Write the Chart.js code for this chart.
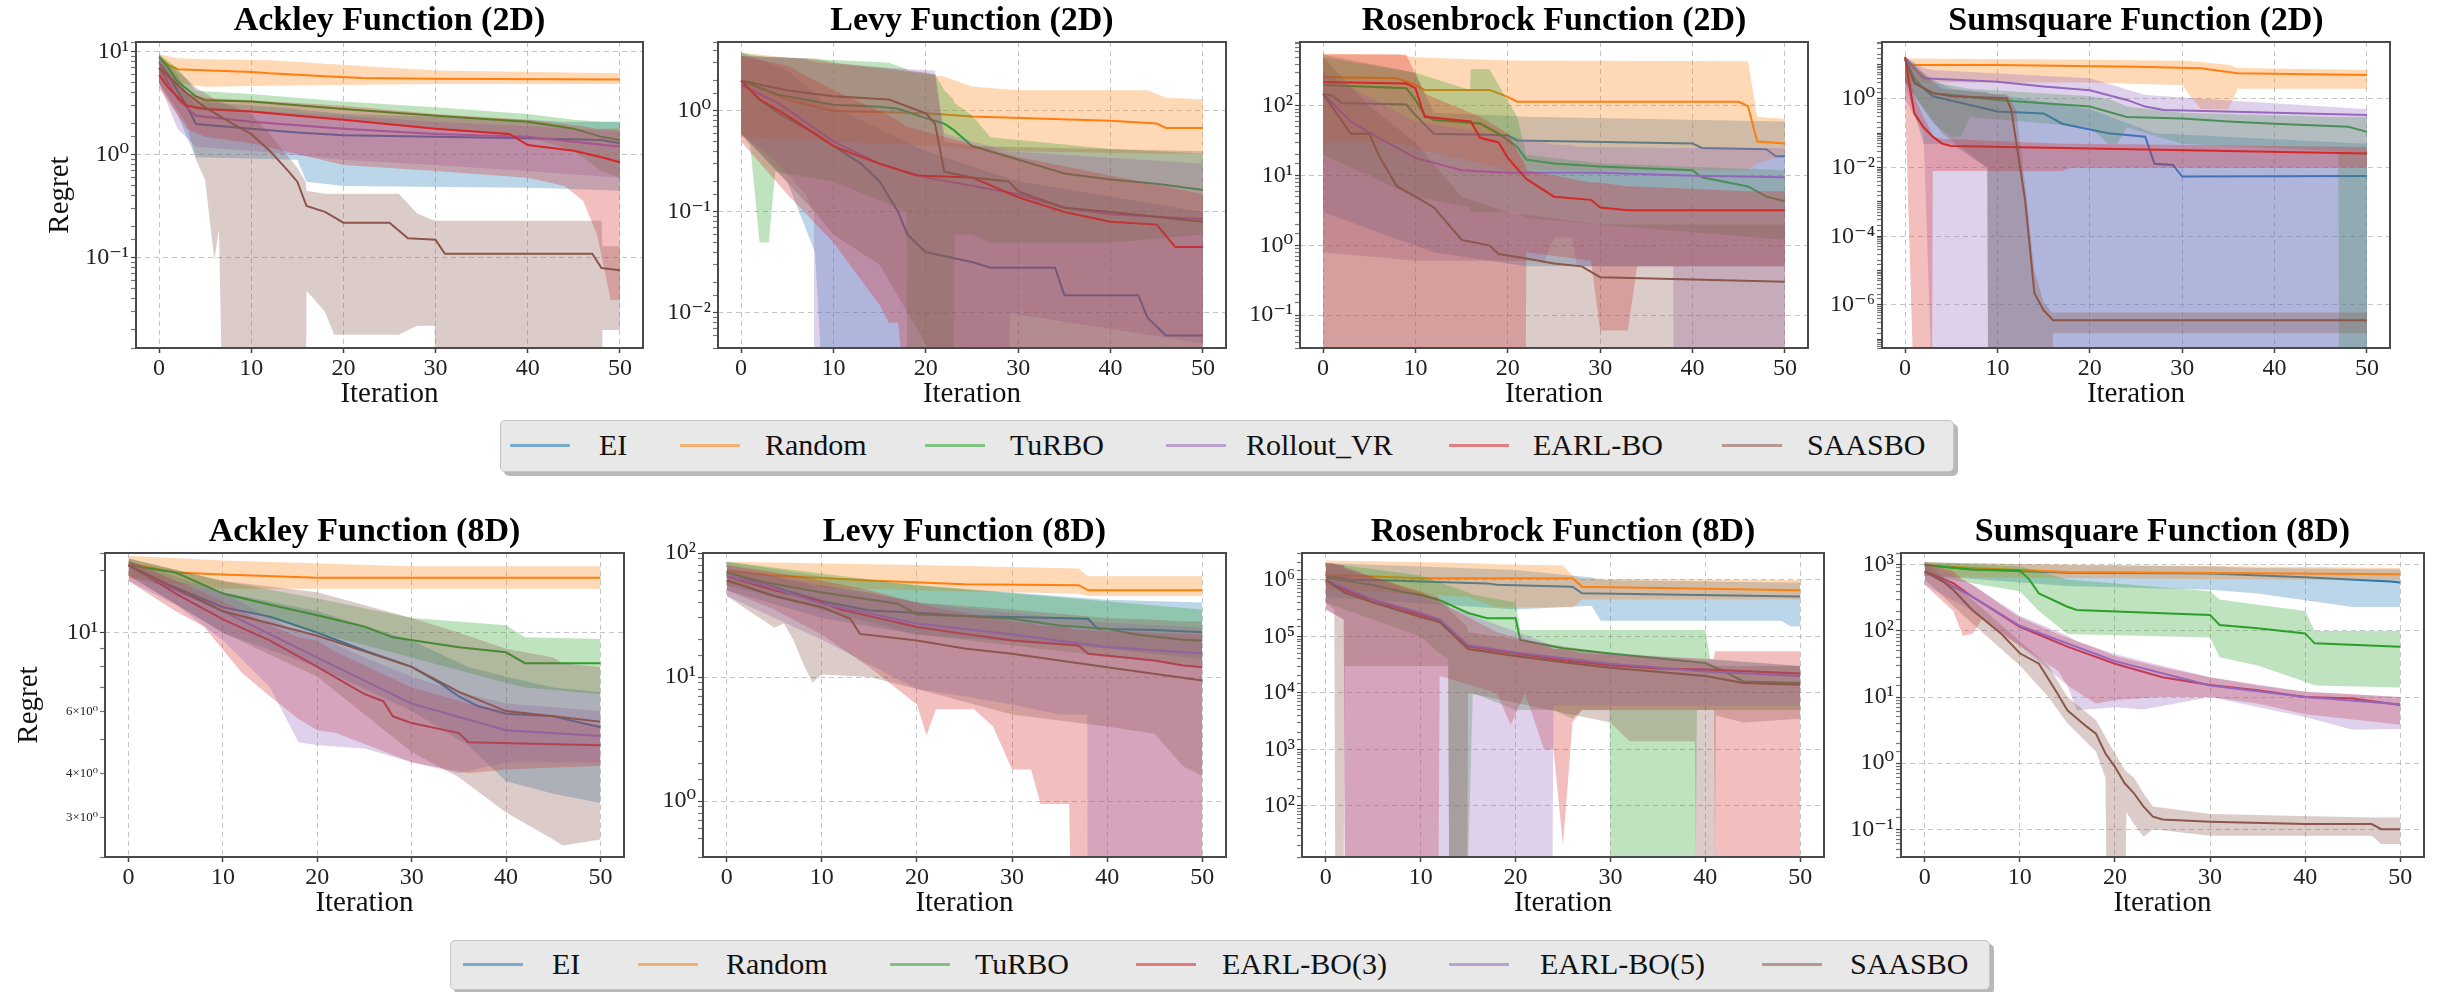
<!DOCTYPE html>
<html><head><meta charset="utf-8">
<script src="https://cdn.jsdelivr.net/npm/chart.js@4.4.1/dist/chart.umd.min.js"></script>
<style>
html,body{margin:0;padding:0;background:#fff;width:2440px;height:992px;overflow:hidden;position:relative;font-family:"Liberation Serif","Times New Roman",Tinos,"DejaVu Serif","Noto Serif",serif;}
canvas{position:absolute;}
.legend{position:absolute;background:#e8e8e8;border:1px solid #c4c4c4;border-radius:5px;box-shadow:4px 4px 0 rgba(0,0,0,0.28);}
.lh{position:absolute;height:3px;}
.lt{position:absolute;font-size:30px;line-height:30px;color:#111;white-space:nowrap;}
</style></head><body>
<script>
// ---------------- DATA ----------------
const xTicks = [0,10,20,30,40,50];
const topNames = ['EI','Random','TuRBO','Rollout_VR','EARL-BO','SAASBO'];
const bottomNames = ['EI','Random','TuRBO','EARL-BO(3)','EARL-BO(5)','SAASBO'];
const titles = ['Ackley Function (2D)','Levy Function (2D)','Rosenbrock Function (2D)','Sumsquare Function (2D)',
                'Ackley Function (8D)','Levy Function (8D)','Rosenbrock Function (8D)','Sumsquare Function (8D)'];
const A8_minorLabels = [3,4,6];

// Ackley 2D  (mean: [iter, value]; band: [iter, low, high])
const A2_EI = [[0,8],[1,6],[2,4.2],[3,3],[4,2.0],[10,1.8],[15,1.65],[20,1.55],[30,1.5],[40,1.45],[48,1.4],[50,1.3]];
const A2_EI_band = [[0,5,9.5],[2,2.5,6],[3,1.5,4],[4,0.95,3.3],[15,0.9,2.8],[16,0.55,2.7],[20,0.5,2.5],[40,0.48,2.2],[44,0.47,2.1],[50,0.45,2.1]];
const A2_Random = [[0,8.9],[1,7.5],[2,6.8],[10,6.4],[12,6.2],[18,5.8],[22,5.6],[30,5.5],[50,5.4]];
const A2_Random_band = [[0,6,9.5],[2,5,8.7],[5,4.6,8.5],[12,4.7,8.3],[22,4.8,7.3],[30,4.9,6.6],[50,4.9,6.2]];
const A2_TuRBO = [[0,9],[1,7],[2,5.2],[4,3.7],[5,3.4],[10,3.3],[20,2.8],[30,2.4],[40,2.1],[45,1.8],[48,1.5],[50,1.4]];
const A2_TuRBO_band = [[0,7,9.5],[2,3.5,7],[4,2.7,4.2],[10,2.6,3.9],[20,2.2,3.3],[30,1.8,2.9],[40,1.5,2.5],[45,1.1,2.2],[48,0.7,2.1],[50,0.6,2.1]];
const A2_Rollout = [[0,7],[2,3.5],[4,2.4],[10,2.1],[20,1.8],[30,1.6],[40,1.5],[50,1.2]];
const A2_Rollout_band = [[0,5,9],[2,1.8,5],[4,1.2,3],[10,1.1,2.7],[20,0.9,2.4],[30,0.8,2.1],[40,0.7,1.9],[50,0.6,1.7]];
const A2_EARL = [[0,6],[1,4.5],[3,3],[5,2.8],[10,2.65],[15,2.4],[20,2.2],[30,1.8],[38,1.6],[40,1.25],[45,1.1],[48,0.95],[50,0.85]];
const A2_EARL_band = [[0,4.5,8],[3,1.8,4],[5,1.5,3.6],[10,1.3,3.4],[20,0.8,3],[30,0.7,2.5],[40,0.6,2.2],[44,0.5,2.0],[46,0.36,1.9],[47.5,0.17,1.8],[49,0.039,1.8],[50,0.039,1.8]];
const A2_SAASBO = [[0,7],[3,4],[5,2.9],[8,2.0],[10,1.6],[12,1.1],[14,0.7],[15,0.55],[16,0.32],[18,0.28],[20,0.22],[25,0.22],[27,0.155],[30,0.15],[31,0.11],[47,0.11],[48,0.08],[50,0.076]];
const A2_SAASBO_band = [[0,5,9],[3,2,5.5],[4,0.9,4.5],[5,0.57,4],[6,0.095,3.5],[6.5,0.19,3.3],[7,0.001,3.2],[10,0.001,2.5],[12,0.001,1.6],[15,0.001,0.75],[15.9,0.001,0.55],[16,0.048,0.45],[18,0.03,0.42],[19,0.018,0.42],[26,0.018,0.42],[28,0.022,0.27],[29.9,0.022,0.23],[30,0.001,0.23],[48,0.001,0.23],[48.1,0.02,0.13],[50,0.02,0.13]];

// Levy 2D
const L2_EI = [[0,2],[2,1.3],[4,0.95],[8,0.6],[10,0.45],[13,0.3],[15,0.2],[17,0.1],[18,0.06],[20,0.04],[25,0.032],[27,0.028],[34,0.028],[35,0.015],[43,0.015],[44,0.009],[46,0.006],[50,0.006]];
const L2_EI_band = [[0,0.6,3.8],[5,0.2,2.5],[8,0.04,1.5],[9,0.001,1.2],[20,0.001,0.4],[30,0.001,0.2],[50,0.001,0.1]];
const L2_Random = [[0,2],[5,1.3],[10,1.0],[20,0.95],[25,0.88],[40,0.8],[45,0.75],[46,0.68],[50,0.68]];
const L2_Random_band = [[0,0.55,3.8],[10,0.5,3.0],[22,0.45,2.2],[25,0.42,1.75],[30,0.4,1.6],[44,0.38,1.6],[46,0.38,1.35],[50,0.38,1.3]];
const L2_TuRBO = [[0,2],[4,1.45],[10,1.15],[15,1.1],[17,1.05],[20,0.85],[22,0.75],[23,0.65],[25,0.45],[30,0.33],[35,0.24],[40,0.21],[45,0.19],[50,0.165]];
const L2_TuRBO_band = [[0,0.6,3.8],[1,0.45,3.6],[2,0.05,3.5],[3,0.05,3.4],[3.7,0.25,3.4],[10,0.2,3.2],[16,0.12,3.0],[17.9,0.1,2.6],[18,0.001,2.5],[21,0.001,2.3],[22,0.001,1.6],[23,0.001,1.3],[23.1,0.06,1.2],[25,0.06,0.9],[27,0.05,0.55],[40,0.05,0.42],[50,0.06,0.38]];
const L2_Rollout = [[0,1.8],[4,1.2],[10,0.5],[15,0.3],[20,0.22],[30,0.15],[35,0.11],[40,0.095],[50,0.085]];
const L2_Rollout_band = [[0,0.6,3.5],[4,0.3,3.4],[7,0.15,3.3],[7.9,0.1,3.0],[8,0.001,3.0],[21,0.001,2.5],[22,0.001,0.6],[29,0.001,0.4],[29.1,0.01,0.4],[50,0.005,0.3]];
const L2_EARL = [[0,2],[2,1.3],[5,0.9],[10,0.45],[12,0.38],[15,0.3],[19,0.23],[25,0.22],[30,0.14],[35,0.1],[40,0.08],[45,0.075],[47,0.045],[50,0.045]];
const L2_EARL_band = [[0,0.5,3.5],[5,0.15,2.8],[10,0.05,1.6],[15,0.012,1.0],[16,0.008,0.9],[17,0.008,0.8],[18,0.001,0.7],[30,0.001,0.35],[50,0.001,0.15]];
const L2_SAASBO = [[0,2],[5,1.6],[10,1.4],[16,1.3],[17,1.2],[20,0.95],[21,0.75],[22,0.25],[25,0.22],[29,0.2],[30,0.16],[35,0.11],[40,0.1],[50,0.08]];
const L2_SAASBO_band = [[0,0.6,3.5],[8,0.1,3.3],[10,0.06,3.0],[15,0.03,2.7],[20,0.005,2.4],[21,0.001,2.3],[22,0.001,0.5],[25,0.001,0.45],[50,0.001,0.4]];

// Rosenbrock 2D
const R2_EI = [[0,150],[1,140],[2,110],[9,105],[10,74],[12,40],[20,38],[21,32],[40,29],[41,25],[48,24],[49,19],[50,19]];
const R2_EI_band = [[0,3,550],[10,1,300],[12,0.8,80],[22,0.5,70],[50,0.5,60]];
const R2_Random = [[0,260],[8,250],[10,200],[11,170],[18,170],[20,135],[21,115],[45,115],[46,100],[47,31],[50,29]];
const R2_Random_band = [[0,30,560],[8,30,550],[10,25,500],[20,12,450],[46,12,440],[47,15,70],[50,20,65]];
const R2_TuRBO = [[0,200],[9,180],[10,122],[11,74],[12,63],[17,56],[19,40],[21,26],[22,17],[25,15],[30,13.5],[40,12],[41,9.5],[46,7],[48,5],[50,4.3]];
const R2_TuRBO_band = [[0,20,500],[10,5,300],[15.9,3.5,170],[16,3,340],[18,3,340],[19,3,200],[21,3,70],[22,2.5,20],[30,2,15],[50,1.2,12]];
const R2_Rollout = [[0,150],[3,60],[6,35],[10,18],[15,12],[20,11],[30,11],[40,10],[50,9.5]];
const R2_Rollout_band = [[0,0.8,300],[10,0.6,60],[24,0.6,30],[25,1.3,28],[27,1.3,27],[27.5,0.5,26],[37.9,0.5,25],[38,0.001,25],[50,0.001,25]];
const R2_EARL = [[0,220],[9,210],[10,180],[11,70],[16,60],[17,35],[19,30],[20,18],[22,9],[25,5],[29,4.5],[30,3.5],[33,3.2],[50,3.2]];
const R2_EARL_band = [[0,0.001,550],[9,0.001,550],[11,0.001,150],[17,0.001,70],[20,0.001,40],[21.9,0.001,14],[22,0.8,12],[29,0.6,8],[30,0.06,8],[33,0.06,7],[34,0.5,7],[46,0.5,6],[50,0.5,6]];
const R2_SAASBO = [[0,150],[3,40],[5,40],[6,20],[8,7],[10,5],[12,3.5],[15,1.2],[18,1.0],[19,0.75],[22,0.65],[25,0.55],[28,0.5],[30,0.35],[50,0.3]];
const R2_SAASBO_band = [[0,0.001,500],[5,0.001,100],[10,0.001,30],[15,0.001,5],[20,0.001,3],[30,0.001,2],[50,0.001,2]];

// Sumsquare 2D
const S2_EI = [[0,15],[1,4],[2,2],[3,1.2],[10,0.43],[15,0.38],[17,0.19],[22,0.1],[26,0.08],[27,0.013],[29,0.012],[30,0.0055],[50,0.0057]];
const S2_EI_band = [[0,3,17],[2,0.05,5],[5,0.05,2],[8.9,0.01,1.6],[9,1e-9,1.5],[20,1e-9,0.5],[27,1e-9,0.1],[50,1e-9,0.05]];
const S2_Random = [[0,11],[1,9.8],[10,9.8],[25,8.7],[32,7.8],[36,5.6],[50,5]];
const S2_Random_band = [[0,3,15],[20,3,14],[30,2.5,13],[32,0.5,12],[35,0.5,10],[36,2,8],[50,2,7]];
const S2_TuRBO = [[0,15],[1,3],[3,1.46],[5,1.3],[10,0.93],[20,0.6],[24,0.3],[30,0.27],[35,0.22],[40,0.19],[48,0.155],[50,0.11]];
const S2_TuRBO_band = [[0,3,17],[3,0.2,3],[5,0.08,2.5],[6,0.08,2.2],[7,0.3,2],[20,0.15,1.2],[22,0.05,1.0],[23,0.05,0.8],[24,0.15,0.6],[30,0.05,0.4],[46.9,0.03,0.3],[47,1e-9,0.3],[50,1e-9,0.3]];
const S2_Rollout = [[0,15],[2,4],[10,3.2],[15,2.3],[20,1.8],[24,0.94],[26,0.6],[28,0.48],[50,0.34]];
const S2_Rollout_band = [[0,1,17],[2,0.1,8],[3,1e-9,7],[20,1e-9,4],[26,1e-9,1.3],[50,1e-9,0.5]];
const S2_EARL = [[0,17],[0.5,2.3],[1,0.38],[2,0.15],[3,0.08],[4,0.05],[5,0.043],[20,0.036],[50,0.026]];
const S2_EARL_band = [[0,1,17],[1,1e-9,1.2],[2,1e-9,0.3],[2.9,1e-9,0.1],[3,0.008,0.08],[4,0.008,0.07],[17,0.008,0.05],[18,0.01,0.05],[50,0.01,0.04]];
const S2_SAASBO = [[0,15],[1,2.9],[3,1.5],[5,1.2],[11,1.05],[11.5,0.48],[13,1.1e-3],[14,2.2e-6],[15,7e-7],[16,3.6e-7],[50,3.6e-7]];
const S2_SAASBO_band = [[0,3,17],[4,0.1,2],[8.9,0.01,1.5],[9,1e-9,1.4],[11,1e-9,1.4],[12,1e-9,0.5],[13,1e-9,3e-3],[14,1e-9,1e-5],[15,1e-9,1.2e-6],[15.9,1e-9,6e-7],[16,1.5e-7,6e-7],[50,1.5e-7,6e-7]];

// Ackley 8D
const A8_EI = [[0,15.5],[3,13.9],[5,13.4],[10,11.8],[15,11.1],[20,10],[25,8.9],[30,8],[33,7.2],[35,6.6],[37,6.2],[40,5.9],[45,5.8],[50,5.4]];
const A8_EI_band = [[0,14.5,16],[10,10,13],[20,8,11.5],[30,6,9.5],[36,4.8,8],[40,3.8,7.5],[45,3.5,7],[50,3.3,6.8]];
const A8_Random = [[0,15.7],[5,14.8],[10,14.6],[20,14.3],[50,14.3]];
const A8_Random_band = [[0,14.2,16.5],[10,13.3,16],[30,13.3,15.4],[50,13.3,15.4]];
const A8_TuRBO = [[0,15.5],[5,14.8],[10,12.9],[15,12],[20,11.2],[25,10.4],[28,9.7],[35,9.1],[40,8.8],[42,8.2],[50,8.2]];
const A8_TuRBO_band = [[0,14.5,16.2],[10,12,14],[20,10,12.5],[30,8.5,11],[40,7.2,10.5],[42,7,9.7],[50,6.7,9.6]];
const A8_EARL3 = [[0,15.5],[2,14.5],[5,12.9],[10,10.9],[15,9.5],[20,8],[25,6.7],[27,6.4],[28,5.8],[30,5.55],[35,5.2],[36,4.9],[50,4.8]];
const A8_EARL3_band = [[0,14,16],[5,11.5,14],[8,10.4,13],[12,7.7,11.5],[15,6.6,10.5],[18,5.7,9.7],[20,5.3,9.5],[22,5.2,8.8],[30,4.3,7],[36,4.0,6.3],[40,4.1,6],[50,4.2,5.5]];
const A8_EARL5 = [[0,15.5],[5,13.2],[10,11.5],[20,8.5],[30,6.3],[40,5.3],[50,5.1]];
const A8_EARL5_band = [[0,14,16],[5,12,14],[10,9.5,13],[15,7,11],[18,4.9,10],[20,4.8,9.8],[25,4.7,8.5],[30,4.3,7.5],[35,4.0,6.8],[40,4.3,6.3],[50,4.3,6]];
const A8_SAASBO = [[0,15.5],[10,11.5],[20,9.8],[30,8],[35,6.8],[40,6],[45,5.8],[50,5.6]];
const A8_SAASBO_band = [[0,14.5,16.2],[10,10,14],[20,7.5,13],[30,4.6,11],[35,3.9,10],[40,3.1,9],[45,2.6,8.5],[46,2.5,8.2],[50,2.6,8]];

// Levy 8D
const L8_EI = [[0,70],[5,53],[10,41],[15,34.4],[20,33],[25,31],[35,30],[38,29.5],[39,24.5],[45,24],[50,23]];
const L8_EI_band = [[0,50,85],[10,30,65],[20,22,55],[40,17,42],[50,14,40]];
const L8_Random = [[0,72],[5,66],[15,60],[25,56],[37,55],[38,50],[50,50]];
const L8_Random_band = [[0,55,85],[20,50,80],[37,47,75],[38,45,65],[50,45,65]];
const L8_TuRBO = [[0,70],[4,58],[10,48],[18,39],[20,32],[25,31],[30,29.5],[35,26],[40,24.5],[43,22],[48,20],[50,19.7]];
const L8_TuRBO_band = [[0,55,85],[20,22,55],[50,12,35]];
const L8_EARL3 = [[0,65],[5,50],[9,42.6],[12,35],[15,31],[20,25.3],[25,22.3],[30,19.7],[37,18],[38,15.4],[45,13.6],[48,12.4],[50,12]];
const L8_EARL3_band = [[0,50,80],[5,35,70],[10,22,60],[15,12,50],[20,6,40],[21,3.4,38],[22,5.5,36],[26,5.5,32],[28,4,30],[30,1.8,28],[32,1.8,27],[33,0.95,26],[36,0.95,25],[36.5,0.01,24],[50,0.01,22]];
const L8_EARL5 = [[0,65],[4,55],[10,39],[15,32.6],[20,27],[30,22],[40,17.5],[50,15.5]];
const L8_EARL5_band = [[0,45,80],[10,20,55],[20,8,40],[25,7,36],[30,6,33],[35,5,30],[37.9,5,29],[38,0.01,28],[50,0.01,25]];
const L8_SAASBO = [[0,60],[5,45],[10,36.6],[13,29.5],[14,22.3],[20,19.7],[25,17],[30,15.4],[40,12],[50,9.4]];
const L8_SAASBO_band = [[0,45,75],[5,25,65],[6,27,62],[7,20,60],[8,13,58],[9,9,55],[10,10.5,55],[15,10,48],[20,8,40],[30,5,35],[40,4,30],[45,3.5,29],[48,1.9,28],[50,1.6,28]];

// Rosenbrock 8D
const R8_EI = [[0,1.2e6],[3,1.0e6],[5,1.0e6],[17,8.7e5],[18,8.2e5],[26,7.6e5],[27,5.8e5],[50,5.1e5]];
const R8_EI_band = [[0,5e5,2e6],[20,3e5,1.5e6],[28,3.5e5,1.1e6],[29,1.9e5,1e6],[48,1.9e5,9e5],[49,1.5e5,9e5],[50,1.5e5,9e5]];
const R8_Random = [[0,1.22e6],[5,1.15e6],[10,1.07e6],[26,1.07e6],[27,7.6e5],[50,6.6e5]];
const R8_Random_band = [[0,7e5,2.2e6],[15,5e5,2e6],[18,3.3e5,1.9e6],[25,3.3e5,1.8e6],[26,3.3e5,1.2e6],[27,4.5e5,1.05e6],[50,4.5e5,1.0e6]];
const R8_TuRBO = [[0,1.1e6],[5,8.1e5],[8,6.2e5],[10,5.4e5],[12,4.4e5],[15,2.6e5],[17,2.1e5],[20,2.1e5],[20.5,8.7e4],[25,6.2e4],[30,5e4],[35,4.1e4],[40,3.4e4],[42,2.4e4],[44,1.6e4],[50,1.5e4]];
const R8_TuRBO_band = [[0,4e5,2e6],[10,1e5,1.2e6],[12,5e4,9e5],[12.9,4e4,8e5],[13,10,8e5],[15,10,6e5],[15.5,1e4,5.5e5],[20,5e3,4e5],[20.5,5e3,1.3e5],[24,5e3,1.3e5],[26,3.5e3,1.3e5],[27,5e3,1.3e5],[29.9,5e3,1.3e5],[30,10,1.3e5],[39,10,1.3e5],[39.1,5e3,1.3e5],[40,5e3,1.3e5],[40.5,5e3,4e4],[50,5e3,3e4]];
const R8_EARL3 = [[0,1.0e6],[2,6.7e5],[5,4.4e5],[10,2.4e5],[12,1.96e5],[15,6.6e4],[20,5e4],[25,3.8e4],[30,3.1e4],[35,2.7e4],[40,2.6e4],[45,2.4e4],[50,2.2e4]];
const R8_EARL3_band = [[0,3e5,2e6],[1.9,2e5,1.8e6],[2,10,1.6e6],[11.9,10,5e5],[12,2e4,4e5],[18,1e4,1.2e5],[19.5,2.7e3,1e5],[21,1e4,9e4],[23,1e3,7e4],[24,1e3,6e4],[25,20,6e4],[26,3e3,5.5e4],[27,5e3,5e4],[40.9,5e3,4e4],[41,10,5.5e4],[50,10,5.5e4]];
const R8_EARL5 = [[0,1e6],[5,4.5e5],[10,2.6e5],[12,2e5],[15,7e4],[20,5.2e4],[30,3.3e4],[40,2.4e4],[50,2e4]];
const R8_EARL5_band = [[0,3e5,2e6],[1.9,2e5,1.8e6],[2,10,1.6e6],[23.9,10,7e4],[24,6e3,6e4],[50,6e3,3e4]];
const R8_SAASBO = [[0,1e6],[2,6e5],[5,4e5],[10,2.2e5],[12,1.8e5],[15,6e4],[20,4.5e4],[25,3.5e4],[30,2.8e4],[40,2e4],[44,1.5e4],[50,1.4e4]];
const R8_SAASBO_band = [[0,4e5,2e6],[0.9,3e5,2e6],[1,10,1.9e6],[1.9,10,1.8e6],[2,3e4,1.7e6],[12.9,3e4,4e5],[13,10,3e5],[14.9,10,1.5e5],[15,1e4,1.2e5],[30,3e3,5e4],[32,1.4e3,4.5e4],[38.9,1.4e3,3.5e4],[39,10,3.5e4],[41,10,3e4],[41.1,4e3,3e4],[44,3e3,3e4],[50,3.5e3,3e4]];

// Sumsquare 8D
const S8_EI = [[0,1000],[5,850],[15,760],[30,740],[40,650],[49,560],[50,540]];
const S8_EI_band = [[0,700,1100],[15,480,1000],[30,420,950],[35,370,900],[45,230,870],[50,230,850]];
const S8_Random = [[0,1000],[5,900],[15,780],[50,720]];
const S8_Random_band = [[0,700,1100],[5,650,1050],[50,580,900]];
const S8_TuRBO = [[0,1000],[5,850],[10,820],[11,600],[12,370],[15,233],[16,208],[25,185],[30,175],[31,123],[35,110],[40,92],[41,65],[50,58]];
const S8_TuRBO_band = [[0,700,1100],[10,400,950],[12,200,800],[15,90,600],[30,80,400],[31,40,300],[35,30,250],[40,17,200],[41,15,100],[50,14,100]];
const S8_EARL3 = [[0,800],[3,530],[5,330],[10,116],[15,58],[20,32],[25,20],[30,15.2],[35,12.7],[40,10],[45,9.5],[50,7.6]];
const S8_EARL3_band = [[0,500,1100],[3,200,800],[4,85,600],[5,90,500],[6,150,400],[8,90,250],[10,60,160],[14,25,90],[15,15,80],[18,8,55],[20,9,42],[25,10,28],[30,10,20],[35,8,15],[40,5.5,12],[50,3.8,10]];
const S8_EARL5 = [[0,800],[5,330],[10,120],[20,35],[30,15],[40,10],[50,7.8]];
const S8_EARL5_band = [[0,500,1100],[5,200,500],[10,60,170],[15,15,85],[16,6.3,70],[20,7,45],[23,6.5,35],[30,10,20],[40,5,12],[45,3.2,11],[50,3.3,10]];
const S8_SAASBO = [[0,800],[2,550],[3,417],[5,208],[8,92],[10,46],[12,32],[14,11],[15,6.3],[17,3.6],[18,2.8],[19,1.4],[20,0.88],[21,0.5],[22,0.35],[23,0.22],[24,0.155],[25,0.14],[30,0.13],[40,0.12],[47,0.12],[48,0.1],[50,0.1]];
const S8_SAASBO_band = [[0,600,1100],[5,130,300],[10,30,70],[13,10,30],[15,4,10],[18,1.5,4.5],[19,0.6,2.5],[19.2,0.001,2.2],[21,0.001,0.8],[21.2,0.18,0.75],[22,0.12,0.6],[23,0.077,0.35],[24,0.1,0.22],[30,0.08,0.17],[47,0.08,0.15],[48,0.06,0.15],[50,0.06,0.15]];

// ---------------- STYLE / LAYOUT ----------------
const FONT = '"Liberation Serif","Times New Roman",Tinos,"DejaVu Serif","Noto Serif",serif';
const COL = {blue:'31,119,180', orange:'255,127,14', green:'44,160,44', purple:'148,103,189', red:'214,39,40', brown:'140,86,75'};
const topColors = [COL.blue, COL.orange, COL.green, COL.purple, COL.red, COL.brown];
const bottomColors = [COL.blue, COL.orange, COL.green, COL.red, COL.purple, COL.brown];
const GRID = 'rgba(150,150,150,0.55)';
const AW = 100, XH = 70, TH = 42, RP = 12;

const SUP = {'0':'⁰','1':'¹','2':'²','3':'³','4':'⁴','5':'⁵','6':'⁶','7':'⁷','8':'⁸','9':'⁹','-':'⁻'};
function sup(n){ return String(n).split('').map(c => SUP[c]).join(''); }
function expOf(v){ if(!(v>0)) return null; const l = Math.log10(v); const e = Math.round(l); return Math.abs(l-e) < 1e-6 ? e : null; }
function rgba(c,a){ return 'rgba(' + c + ',' + a + ')'; }

const framePlugin = {
  id: 'frame',
  afterDatasetsDraw(chart){
    const a = chart.chartArea, ctx = chart.ctx;
    ctx.save(); ctx.strokeStyle = '#4a4a4a'; ctx.lineWidth = 2;
    ctx.strokeRect(a.left, a.top, a.right - a.left, a.bottom - a.top);
    ctx.restore();
  }
};

function S(names, colors, means, bands){
  return names.map((n,i) => ({name:n, color:colors[i], mean:means[i], band:bands[i]}));
}

const plots = [
  {title:titles[0], L:136, T:42, R:643, B:348, min:0.01336, max:12.5, ylabel:true,
   series:S(topNames, topColors, [A2_EI,A2_Random,A2_TuRBO,A2_Rollout,A2_EARL,A2_SAASBO], [A2_EI_band,A2_Random_band,A2_TuRBO_band,A2_Rollout_band,A2_EARL_band,A2_SAASBO_band])},
  {title:titles[1], L:718, T:42, R:1226, B:348, min:0.0045, max:4.82,
   series:S(topNames, topColors, [L2_EI,L2_Random,L2_TuRBO,L2_Rollout,L2_EARL,L2_SAASBO], [L2_EI_band,L2_Random_band,L2_TuRBO_band,L2_Rollout_band,L2_EARL_band,L2_SAASBO_band])},
  {title:titles[2], L:1300, T:42, R:1808, B:348, min:0.0337, max:828,
   series:S(topNames, topColors, [R2_EI,R2_Random,R2_TuRBO,R2_Rollout,R2_EARL,R2_SAASBO], [R2_EI_band,R2_Random_band,R2_TuRBO_band,R2_Rollout_band,R2_EARL_band,R2_SAASBO_band])},
  {title:titles[3], L:1882, T:42, R:2390, B:348, min:5.58e-8, max:45.7, labelStep:2,
   series:S(topNames, topColors, [S2_EI,S2_Random,S2_TuRBO,S2_Rollout,S2_EARL,S2_SAASBO], [S2_EI_band,S2_Random_band,S2_TuRBO_band,S2_Rollout_band,S2_EARL_band,S2_SAASBO_band])},
  {title:titles[4], L:105, T:553, R:624, B:857, min:2.32, max:16.8, ylabel:true, minor:A8_minorLabels,
   series:S(bottomNames, bottomColors, [A8_EI,A8_Random,A8_TuRBO,A8_EARL3,A8_EARL5,A8_SAASBO], [A8_EI_band,A8_Random_band,A8_TuRBO_band,A8_EARL3_band,A8_EARL5_band,A8_SAASBO_band])},
  {title:titles[5], L:703, T:553, R:1226, B:857, min:0.355, max:100,
   series:S(bottomNames, bottomColors, [L8_EI,L8_Random,L8_TuRBO,L8_EARL3,L8_EARL5,L8_SAASBO], [L8_EI_band,L8_Random_band,L8_TuRBO_band,L8_EARL3_band,L8_EARL5_band,L8_SAASBO_band])},
  {title:titles[6], L:1302, T:553, R:1824, B:857, min:12.5, max:3.0e6,
   series:S(bottomNames, bottomColors, [R8_EI,R8_Random,R8_TuRBO,R8_EARL3,R8_EARL5,R8_SAASBO], [R8_EI_band,R8_Random_band,R8_TuRBO_band,R8_EARL3_band,R8_EARL5_band,R8_SAASBO_band])},
  {title:titles[7], L:1901, T:553, R:2424, B:857, min:0.038, max:1515,
   series:S(bottomNames, bottomColors, [S8_EI,S8_Random,S8_TuRBO,S8_EARL3,S8_EARL5,S8_SAASBO], [S8_EI_band,S8_Random_band,S8_TuRBO_band,S8_EARL3_band,S8_EARL5_band,S8_SAASBO_band])}
];

function build(spec){
  const cv = document.createElement('canvas');
  const w = AW + (spec.R - spec.L) + RP, h = TH + (spec.B - spec.T) + XH;
  cv.width = w; cv.height = h;
  cv.style.left = (spec.L - AW) + 'px'; cv.style.top = (spec.T - TH) + 'px';
  cv.style.width = w + 'px'; cv.style.height = h + 'px';
  document.body.appendChild(cv);

  // matplotlib-like draw order: for each series, its line then its band; later series on top.
  // In Chart.js, higher "order" is drawn first.
  const datasets = [];
  spec.series.forEach((s,i) => {
    datasets.push({label:s.name, data:s.mean.map(p => ({x:p[0], y:p[1]})), borderColor:rgba(s.color,1), borderWidth:2,
      pointRadius:0, fill:false, tension:0, order:40 - 4*i});
  });
  spec.series.forEach((s,i) => {
    datasets.push({label:s.name+' hi', data:s.band.map(p => ({x:p[0], y:p[2]})), borderWidth:0, borderColor:'rgba(0,0,0,0)',
      pointRadius:0, fill:'+1', backgroundColor:rgba(s.color,0.3), tension:0, order:38 - 4*i});
    datasets.push({label:s.name+' lo', data:s.band.map(p => ({x:p[0], y:p[1]})), borderWidth:0, borderColor:'rgba(0,0,0,0)',
      pointRadius:0, fill:false, tension:0, order:37 - 4*i});
  });

  const minor = spec.minor || [];
  const step = spec.labelStep || 1;
  const isLabelled = v => { const e = expOf(v); return e !== null && (((e % step) + step) % step === 0); };
  new Chart(cv, {
    type:'line',
    data:{datasets},
    plugins:[framePlugin],
    options:{
      responsive:false, animation:false, devicePixelRatio:1, events:[],
      layout:{padding:{left:0, right:RP, top:0, bottom:0}},
      plugins:{
        legend:{display:false}, tooltip:{enabled:false},
        title:{display:true, text:spec.title, fullSize:false, color:'#000',
          font:{family:FONT, size:34, weight:'bold', lineHeight:1.2}, padding:{top:1.2, bottom:0}}
      },
      scales:{
        x:{type:'linear', min:-2.5, max:52.5,
          afterBuildTicks: sc => { sc.ticks = xTicks.map(v => ({value:v})); },
          afterFit: sc => { sc.height = XH; },
          ticks:{autoSkip:false, maxRotation:0, font:{family:FONT, size:24}, color:'#222', padding:1},
          grid:{color:GRID, lineWidth:1, tickLength:5, tickColor:'#444', tickWidth:1.5},
          border:{display:false, dash:[5,4]},
          title:{display:true, text:'Iteration', color:'#111', font:{family:FONT, size:29}, padding:{top:0, bottom:6}}
        },
        y:{type:'logarithmic', min:spec.min, max:spec.max,
          afterFit: sc => { sc.width = AW; },
          ticks:{autoSkip:false, color:'#222', padding:2,
            font: c => {
              const v = c.tick ? c.tick.value : 1;
              return {family:FONT, size: expOf(v) !== null ? 24 : 13};
            },
            callback: (v) => {
              const e = expOf(v);
              if (e !== null) return isLabelled(v) ? '10' + sup(e) : '';
              const lg = Math.floor(Math.log10(v) + 1e-9);
              const sig = Math.round(v / Math.pow(10, lg));
              if (Math.abs(v / Math.pow(10, lg) - sig) < 1e-6 && minor.includes(sig)) return sig + '×10' + sup(lg);
              return '';
            }
          },
          grid:{lineWidth:1, tickLength:5,
            color: c => (c.tick && isLabelled(c.tick.value)) ? GRID : 'rgba(0,0,0,0)',
            tickColor: c => (c.tick && expOf(c.tick.value) !== null) ? '#444' : '#777',
            tickWidth: 1.2},
          border:{display:false, dash:[5,4]},
          title:{display:!!spec.ylabel, text:'Regret', color:'#111', font:{family:FONT, size:29}, padding:{top:7, bottom:0}}
        }
      }
    }
  });
}
plots.forEach(build);

// ---------------- LEGENDS (HTML) ----------------
function legend(names, colors, box, handleX, labelX){
  const d = document.createElement('div');
  d.className = 'legend';
  d.style.left = box[0]+'px'; d.style.top = box[1]+'px'; d.style.width = box[2]+'px'; d.style.height = box[3]+'px';
  names.forEach((n,i) => {
    const hl = document.createElement('div'); hl.className = 'lh';
    hl.style.left = handleX[i]+'px'; hl.style.width = '60px'; hl.style.top = (box[3]/2 - 2)+'px';
    hl.style.background = rgba(colors[i], 0.55);
    d.appendChild(hl);
    const t = document.createElement('div'); t.className = 'lt'; t.textContent = n;
    t.style.left = labelX[i]+'px'; t.style.top = (box[3]/2 - 16)+'px';
    d.appendChild(t);
  });
  document.body.appendChild(d);
}
legend(topNames, topColors, [500,420,1452,50], [9,179,424,665,948,1221], [98,264,509,745,1032,1306]);
legend(bottomNames, bottomColors, [450,940,1538,48], [12,187,439,685,998,1311], [101,275,524,771,1089,1399]);
</script>
</body></html>
